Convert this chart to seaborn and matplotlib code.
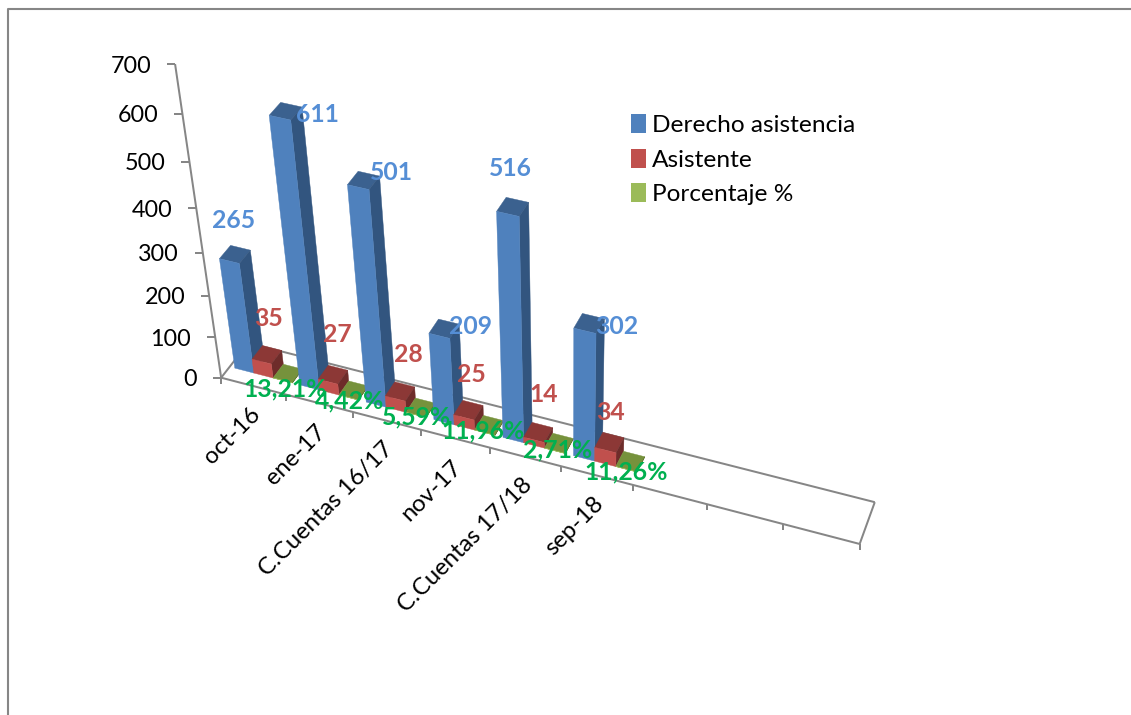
import numpy as np
import matplotlib
matplotlib.use("Agg")
import matplotlib.pyplot as plt
import seaborn as sns
from matplotlib.patches import Patch, Polygon

# --- datos ---
categorias = ["oct-16", "ene-17", "C.Cuentas 16/17", "nov-17", "C.Cuentas 17/18", "sep-18"]
derecho = [265, 611, 501, 209, 516, 302]
asistente = [35, 27, 28, 25, 14, 34]
porcentaje = [13.21, 4.42, 5.59, 11.96, 2.71, 11.26]
series = ["Derecho asistencia", "Asistente", "Porcentaje %"]
y_ticks = [0, 100, 200, 300, 400, 500, 600, 700]

# --- colocacion de etiquetas (pixeles de la imagen) ---
pos_derecho = [(234, 220), (317, 113), (391, 172), (471, 325), (510, 167), (617, 325)]
pos_asistente = [(269, 317), (337, 334), (408, 353), (471, 374), (544, 393), (611, 411)]
pos_porcentaje = [(285, 388), (350, 400), (417, 416), (483, 430), (558, 449), (626, 471)]

N_SLOTS = 9  # el eje tiene 9 huecos, solo 6 con datos
BAR_START = 0.08
BAR_W = 0.295
DEPTH = (0.31, 0.70)
GRIS = "#868686"
FS_DATOS = 17.8
FS_TEXTO = 17.2

# calibracion de la perspectiva: (categoria, profundidad, valor) -> pixel
calib = [
    (0, 0, 0, 222, 378), (3, 0, 0, 422, 431), (6, 0, 0, 634, 485), (9, 0, 0, 860, 543),
    (9, 1, 0, 875, 503), (0, 1, 0, 251, 342),
    (0, 0, 100, 215, 338), (0, 0, 400, 197, 208), (0, 0, 500, 191, 162),
    (0, 0, 600, 184, 113), (0, 0, 700, 176, 63),
    (0.08, 0.31, 265, 218, 259), (0.08, 0.31, 265, 218, 259), (0.08, 0.31, 0, 232, 368),
    (1.08, 0.31, 611, 268, 115), (1.08, 0.31, 611, 268, 115), (2.08, 0.31, 501, 347, 185),
    (3.08, 0.31, 209, 428, 335), (4.08, 0.31, 516, 497, 213), (5.08, 0.31, 302, 573, 328),
    (5.08, 0.31, 0, 573, 453),
]


def fit_projection(points):
    filas = []
    for u, v, h, x, y in points:
        p = [u / 9, v, h / 700, 1]
        x, y = x / 1000, y / 1000
        filas.append(p + [0, 0, 0, 0] + [-x * c for c in p])
        filas.append([0, 0, 0, 0] + p + [-y * c for c in p])
    _, _, vt = np.linalg.svd(np.array(filas))
    return vt[-1].reshape(3, 4)


P = fit_projection(calib)


def proj(u, v, h):
    q = P @ np.array([u / 9, v, h / 700, 1])
    return q[0] / q[2] * 1000, q[1] / q[2] * 1000


sns.set_theme(style="white")
plt.rcParams["font.family"] = ["Lato", "DejaVu Sans"]
colores = sns.color_palette(["#4F81BD", "#C0504D", "#9BBB59"])
laterales = sns.color_palette(["#32557F", "#6E2C2A", "#5F7530"])
techos = sns.color_palette(["#3B618F", "#8C3836", "#76923C"])

fig = plt.figure(figsize=(11.31, 7.15), dpi=100)
ax = fig.add_axes([0, 0, 1, 1])
ax.set_xlim(0, 1131)
ax.set_ylim(715, 0)
ax.axis("off")


def linea(a, b, lw=2.0):
    ax.plot([a[0], b[0]], [a[1], b[1]], color=GRIS, lw=lw * 0.72, solid_capstyle="butt", zorder=1)


# marco exterior
ax.plot([8, 8, 1131], [715, 9, 9], color=GRIS, lw=1.5, zorder=1)

# suelo
for a, b in [((0, 0), (N_SLOTS, 0)), ((N_SLOTS, 0), (N_SLOTS, 1)), ((N_SLOTS, 1), (0, 1)), ((0, 1), (0, 0))]:
    linea(proj(a[0], a[1], 0), proj(b[0], b[1], 0))
for i in range(N_SLOTS + 1):
    x, y = proj(i, 0, 0)
    linea((x, y), (x, y + 6))

# eje de valores
linea(proj(0, 0, 0), proj(0, 0, y_ticks[-1]))
for t in y_ticks:
    x, y = proj(0, 0, t)
    linea((x, y), (x - 8, y))
    ax.text(x - 24, y + 2, str(t), ha="right", va="center", fontsize=16.8, color="black")


def barra(u0, u1, altura, k):
    v0, v1 = DEPTH
    techo = [proj(u0, v0, altura), proj(u1, v0, altura), proj(u1, v1, altura), proj(u0, v1, altura)]
    lado = [proj(u1, v0, 0), proj(u1, v1, 0), proj(u1, v1, altura), proj(u1, v0, altura)]
    frente = [proj(u0, v0, 0), proj(u1, v0, 0), proj(u1, v0, altura), proj(u0, v0, altura)]
    for caras, c in [(techo, techos[k]), (lado, laterales[k]), (frente, colores[k])]:
        ax.add_patch(Polygon(caras, closed=True, facecolor=c, edgecolor=c, lw=0.3, zorder=2))


alturas = [derecho, asistente, [p / 100 for p in porcentaje]]
for i in range(len(categorias)):
    for k in range(3):
        u0 = i + BAR_START + k * BAR_W
        barra(u0, u0 + BAR_W, alturas[k][i], k)

# etiquetas de datos
for vals, pos, col in [(derecho, pos_derecho, "#558ED5"), (asistente, pos_asistente, "#C0504D")]:
    for val, (x, y) in zip(vals, pos):
        ax.text(x, y + 1, str(val), ha="center", va="center", fontsize=FS_DATOS, fontweight="bold", color=col, zorder=5)
for val, (x, y) in zip(porcentaje, pos_porcentaje):
    txt = f"{val:.2f}%".replace(".", ",")
    ax.text(x, y + 1, txt, ha="center", va="center", fontsize=FS_DATOS, fontweight="bold", color="#00B050", zorder=5)

# categorias
for i, cat in enumerate(categorias):
    x, y = proj(i + 0.5, 0, 0)
    ax.text(x + 3, y + 25, cat, rotation=45, rotation_mode="anchor", ha="right", va="center",
            fontsize=FS_TEXTO, color="black", zorder=5)

handles = [Patch(facecolor=c, edgecolor="none") for c in colores]
ax.legend(handles, series, loc="upper left", bbox_to_anchor=(623.6 / 1131, 1 - 107 / 715), frameon=False,
          fontsize=17.6, handlelength=0.61, handleheight=0.8, handletextpad=0.25, labelspacing=0.52,
          borderpad=0.3, borderaxespad=0, labelcolor="black")

fig.savefig("out.png", dpi=100)
plt.close(fig)
